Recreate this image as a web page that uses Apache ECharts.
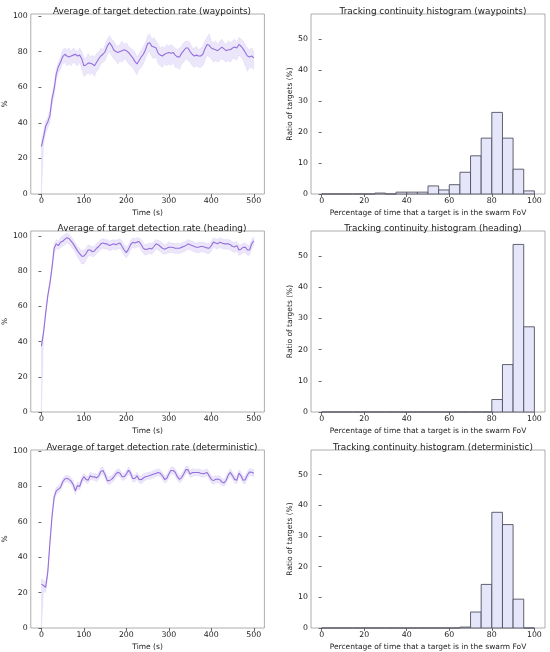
<!DOCTYPE html>
<html>
<head>
    <meta charset="utf-8" />
    <title>Target detection and tracking continuity</title>
    <script src="https://cdn.jsdelivr.net/npm/echarts@6/dist/echarts.min.js"></script>
    <style>
        html, body { margin: 0; padding: 0; background: #fff; }
    </style>
</head>
<body>
    <div id="main" style="width:550px;height:652px;"></div>
    <script type="text/javascript">
        // time stamps (s)
        var time = [0,5,10,15,20,25,30,35,40,45,50,55,60,65,70,75,80,85,90,95,
            100,105,110,115,120,125,130,135,140,145,150,155,160,165,170,175,180,185,190,195,
            200,205,210,215,220,225,230,235,240,245,250,255,260,265,270,275,280,285,290,295,
            300,305,310,315,320,325,330,335,340,345,350,355,360,365,370,375,380,385,390,395,
            400,405,410,415,420,425,430,435,440,445,450,455,460,465,470,475,480,485,490,495,500];

        // waypoints: mean detection rate (%) and band
        var wpMean = [26.6,32,38,40.5,44,53.5,59,67.5,71.5,74,
            77,78.5,77.5,77,77.5,78,78.5,77.5,78,76,
            72,72.5,73.5,73.5,73,72,74,76,77.5,78.5,
            80,83,85,83.5,81,80,79.5,80,80.5,81,
            80.5,79.5,78,76.5,74.5,73,75,77,78.5,81,
            84.5,85,83,82.5,82,79,78,77.5,78.5,79,
            79.5,79,79.5,78,77,77,79,80.5,82,82,
            80,78.5,77.5,78,77.5,77.5,78.5,81.5,84,83.5,
            82,81.5,81,80.5,81.5,82.5,81.5,80.5,81,81,
            82,82.5,82,84,83,81.5,79.5,77.5,77,77.5,76.5];
        var wpUpper = [30,35,41,43,47,56,62,70,74,77,
            81,82,81,82,80,82,81,80,82,80,
            77,76,79,77,78,77,79,80,82,81,
            84,87,89,87,86,84,83,84,86,84,
            85,83,82,81,80,77,79,81,83,85,
            89,90,87,88,86,84,82,83,82,84,
            83,84,83,82,81,82,83,85,86,86,
            85,82,82,83,81,82,83,86,88,90,
            86,85,86,84,86,87,85,84,86,85,
            86,87,85,88,87,86,84,82,81,82,80];
        var wpLower = [0,28,34,37,40,50,55,64,68,70,
            73,74,72,73,72,74,73,72,74,70,
            66,67,68,67,68,66,69,70,73,74,
            75,78,80,78,76,75,73,75,74,76,
            75,73,72,71,69,67,70,71,73,76,
            79,80,77,76,77,73,72,71,73,72,
            73,72,74,71,71,70,73,74,76,75,
            74,72,71,72,71,71,72,75,78,77,
            76,74,75,74,75,76,75,74,75,74,
            76,76,75,78,77,75,72,69,71,71,70];

        // heading
        var hdMean = [37.4,45,56,66,73,82,93,95.5,94.5,96.4,
            97,98,99,98.5,97,95.5,93.5,91.5,90,88.5,
            88.5,90,92,92,91,91.5,93,94,95.5,96,
            95.5,95.5,94.5,95,95.5,95,95.5,96,94,92,
            90.5,92.5,95,96.4,96,96.5,96.8,95,93,92.3,
            92.5,93,92.6,94,95.5,95,94,93,92.5,93,
            93.6,93.6,93.4,93,93,93,93.5,94,94.5,95.5,
            95,94.5,94,93.6,93.6,94,94,93.6,93.2,93,
            94.5,96.5,96,95.5,96.4,96,95.5,95.5,95.5,95,
            94,93.8,94.5,92,92.5,93.5,93.6,92,92,95.5,97.3];
        var hdUpper = [40,47,58,68,75,84,95,98,97,99,
            100,101,101.5,101,99.5,98,96,94,93,91.5,
            92,93,95,94.5,94,94,96,96.5,98,98.5,
            98,98,97,97.5,98,97.5,98,98.5,97,95,
            94,95,97.5,99,98.5,99,99,98,96,95,
            95.5,96,95.5,97,98,97.5,97,96,95,95.5,
            96.5,96,96,95.5,96,95.5,96,96.5,97,98,
            97.5,97,96.5,96,96.5,96.5,96.5,96,96,95.5,
            97,99,98.5,98,99,98.5,98,98,98,97.5,
            96.5,96.5,97,95,95,96,96,95,94.5,98,99.5];
        var hdLower = [0,43,54,64,71,80,90,93,92,93.5,
            94,95,96,95.5,94,92.5,90.5,88,86,84,
            84,86,88.5,89,88,88.5,90,91,92.5,93,
            92.5,92.5,91.5,92,92.5,92,92.5,93,91,89,
            87.5,89.5,92,93.5,93,93.5,94,92,90,89,
            89.5,90,89.5,91,92.5,92,91,90,89.5,90,
            90.5,90.5,90.5,90,90,90,90.5,91,91.5,92.5,
            92,91.5,91,90.5,90.5,91,91,90.5,90,90,
            91.5,93.5,93,92.5,93.5,93,92.5,92.5,92.5,92,
            91,90.5,91.5,89,89.5,90.5,90.5,89,89,92.5,94.5];

        // deterministic
        var dtMean = [24.8,24,23,31.5,48,63,74,77.5,78.5,79.5,
            82.5,84.2,84.6,84,83,81,77.6,80.5,80,83.5,
            85.5,84,83.5,86,85.3,85.5,84.8,86,88.5,89,
            86.5,83.3,83.3,84,85.2,87,88,87.5,85.5,85.5,
            87,89.2,87.5,84.5,84.5,86,84,83.8,84.8,85.5,
            85.8,86.2,86.6,87,87.4,87.9,87.4,86,84,84.5,
            87,89,89,88,85.5,84,85,87,89.5,89.5,
            87,87.8,87.9,87.9,87.9,87.5,87.2,87.4,87.9,86,
            84,83.3,84,84.2,83.8,82.5,82,83.5,86.5,87.9,
            86,84,83.5,87.5,86,83.5,83.8,86.5,88.2,88,87.4];
        var dtUpper = [28,27,26,34,50,65,76,79.5,80.5,81.5,
            84.5,86,86.5,86,85,83,80,82.5,82,85.5,
            87.5,86,85.5,88,87.5,87.5,87,88,90.5,91,
            88.5,85.5,85.5,86,87.5,89,90,89.5,87.5,87.5,
            89,91,89.5,86.5,86.5,88,86,86,87,87.5,
            88,88,88.5,89,89.5,90,89.5,88,86,86.5,
            89,91,91,90,87.5,86,87,89,91.5,91.5,
            89,90,90,89.5,90,89.5,89,89.5,90,88,
            86,85.5,86,86,86,84.5,84,85.5,88.5,90,
            88,86,85.5,89.5,88,85.5,86,88.5,90,90,89.5];
        var dtLower = [0,21,20,29,46,61,72,75.5,76.5,77.5,
            80.5,82.5,82.5,82,81,79,75.5,78.5,78,81.5,
            83.5,82,81.5,84,83.5,83.5,82.5,84,86.5,87,
            84.5,81.5,81,82,83,85,86,85.5,83.5,83.5,
            85,87,85.5,82.5,82.5,84,82,81.5,82.5,83.5,
            84,84,84.5,85,85.5,86,85.5,84,82,82.5,
            85,87,87,86,83.5,82,83,85,87.5,87.5,
            85,85.5,86,86,86,85.5,85,85.5,86,84,
            82,81,82,82,81.5,80.5,80,81.5,84.5,86,
            84,82,81.5,85.5,84,81.5,81.5,84.5,86,86,85.5];

        // histogram bins (percentage of time in FoV) and ratio of targets (%)
        var binEdges = [0,5,10,15,20,25,30,35,40,45,50,55,60,65,70,75,80,85,90,95,100];
        var wpHist = [0,0,0,0,0,0.3,0,0.6,0.6,0.6,2.6,1.3,3.0,7.0,12.3,18.0,26.3,18.0,8.0,1.0];
        var hdHist = [0,0,0,0,0,0,0,0,0,0,0,0,0,0,0,0,4.0,15.2,53.7,27.3];
        var dtHist = [0,0,0,0,0,0,0,0,0,0,0,0,0,0.3,5.2,14.2,37.7,33.7,9.4,0];

        var scenarios = ['waypoints', 'heading', 'deterministic'];
        var lineMax = [101.1, 102.8, 100.6];
        var rowTop = [14, 231, 450];
        var rowHeight = [180, 181, 179];

        var means = [wpMean, hdMean, dtMean];
        var uppers = [wpUpper, hdUpper, dtUpper];
        var lowers = [wpLower, hdLower, dtLower];
        var hists = [wpHist, hdHist, dtHist];

        var FONT = 'DejaVu Sans';
        var lineColor = '#9370db';
        var bandColor = 'rgba(160,130,230,0.2)';

        var myChart = echarts.init(document.getElementById('main'), null, { renderer: 'canvas' });

        var grids = [], xAxes = [], yAxes = [], titles = [], series = [];

        function axisCommon(ticks) {
            return {
                axisLine: { show: false },
                axisTick: { show: true, length: 3, lineStyle: { color: '#444', width: 0.8 }, customValues: ticks },
                axisLabel: { fontFamily: FONT, fontSize: 7.8, color: '#222', margin: 3, customValues: ticks },
                splitLine: { show: false },
                nameTextStyle: { fontFamily: FONT, fontSize: 7.5, color: '#222' }
            };
        }

        function pairs(xs, ys) {
            var out = [];
            for (var i = 0; i < xs.length; i++) out.push([xs[i], ys[i]]);
            return out;
        }

        // min/max band as one polygon, placed through the axis scales
        function bandRenderer(lo, hi) {
            return function (params, api) {
                if (params.dataIndex !== 0) return;
                var pts = [];
                for (var i = 0; i < time.length; i++) pts.push(api.coord([time[i], hi[i]]));
                for (var j = time.length - 1; j >= 0; j--) pts.push(api.coord([time[j], lo[j]]));
                return {
                    type: 'polygon',
                    shape: { points: pts },
                    style: { fill: bandColor, stroke: 'rgba(170,145,235,0.25)', lineWidth: 0.5 }
                };
            };
        }

        for (var r = 0; r < 3; r++) {
            var gl = grids.length;
            // left: time series
            grids.push({ left: 29.6, top: rowTop[r], width: 234.8, height: rowHeight[r],
                show: true, borderColor: '#999', borderWidth: 0.8, backgroundColor: 'transparent' });
            // right: histogram
            grids.push({ left: 311, top: rowTop[r], width: 234, height: rowHeight[r],
                show: true, borderColor: '#999', borderWidth: 0.8, backgroundColor: 'transparent' });

            xAxes.push(Object.assign(axisCommon([0, 100, 200, 300, 400, 500]), {
                type: 'value', gridIndex: gl, min: -25, max: 525,
                name: 'Time (s)', nameLocation: 'middle', nameGap: 15
            }));
            yAxes.push(Object.assign(axisCommon([0, 20, 40, 60, 80, 100]), {
                type: 'value', gridIndex: gl, min: 0, max: lineMax[r],
                name: '%', nameLocation: 'middle', nameGap: 19
            }));
            xAxes.push(Object.assign(axisCommon([0, 20, 40, 60, 80, 100]), {
                type: 'value', gridIndex: gl + 1, min: -5, max: 105,
                name: 'Percentage of time that a target is in the swarm FoV', nameLocation: 'middle', nameGap: 15
            }));
            yAxes.push(Object.assign(axisCommon([0, 10, 20, 30, 40, 50]), {
                type: 'value', gridIndex: gl + 1, min: 0, max: 58,
                name: 'Ratio of targets (%)', nameLocation: 'middle', nameGap: 15
            }));

            titles.push({ text: 'Average of target detection rate (' + scenarios[r] + ')',
                left: 147, top: rowTop[r] - 12, textAlign: 'center',
                textStyle: { fontFamily: FONT, fontSize: 8.9, fontWeight: 'normal', color: '#222' } });
            titles.push({ text: 'Tracking continuity histogram (' + scenarios[r] + ')',
                left: 428, top: rowTop[r] - 12, textAlign: 'center',
                textStyle: { fontFamily: FONT, fontSize: 8.9, fontWeight: 'normal', color: '#222' } });

            series.push({ type: 'custom', xAxisIndex: gl, yAxisIndex: gl, silent: true,
                encode: { x: 0, y: 1 },
                data: pairs(time, means[r]),
                renderItem: bandRenderer(lowers[r], uppers[r]) });
            series.push({ type: 'line', xAxisIndex: gl, yAxisIndex: gl,
                data: pairs(time, means[r]), symbol: 'none', silent: true,
                lineStyle: { width: 1.1, color: lineColor } });

            // histogram rectangles
            var hdata = [];
            for (var b = 0; b < hists[r].length; b++) hdata.push([binEdges[b], binEdges[b + 1], hists[r][b]]);
            series.push({ type: 'custom', xAxisIndex: gl + 1, yAxisIndex: gl + 1, silent: true,
                encode: { x: [0, 1], y: 2 },
                data: hdata,
                renderItem: function (params, api) {
                    var p0 = api.coord([api.value(0), api.value(2)]);
                    var p1 = api.coord([api.value(1), 0]);
                    return {
                        type: 'rect',
                        shape: { x: p0[0], y: p0[1], width: p1[0] - p0[0], height: p1[1] - p0[1] },
                        style: { fill: '#e6e6fa', stroke: '#505060', lineWidth: 0.9 }
                    };
                } });
        }

        myChart.setOption({
            animation: false,
            title: titles,
            grid: grids,
            xAxis: xAxes,
            yAxis: yAxes,
            series: series
        });
    </script>
</body>
</html>
